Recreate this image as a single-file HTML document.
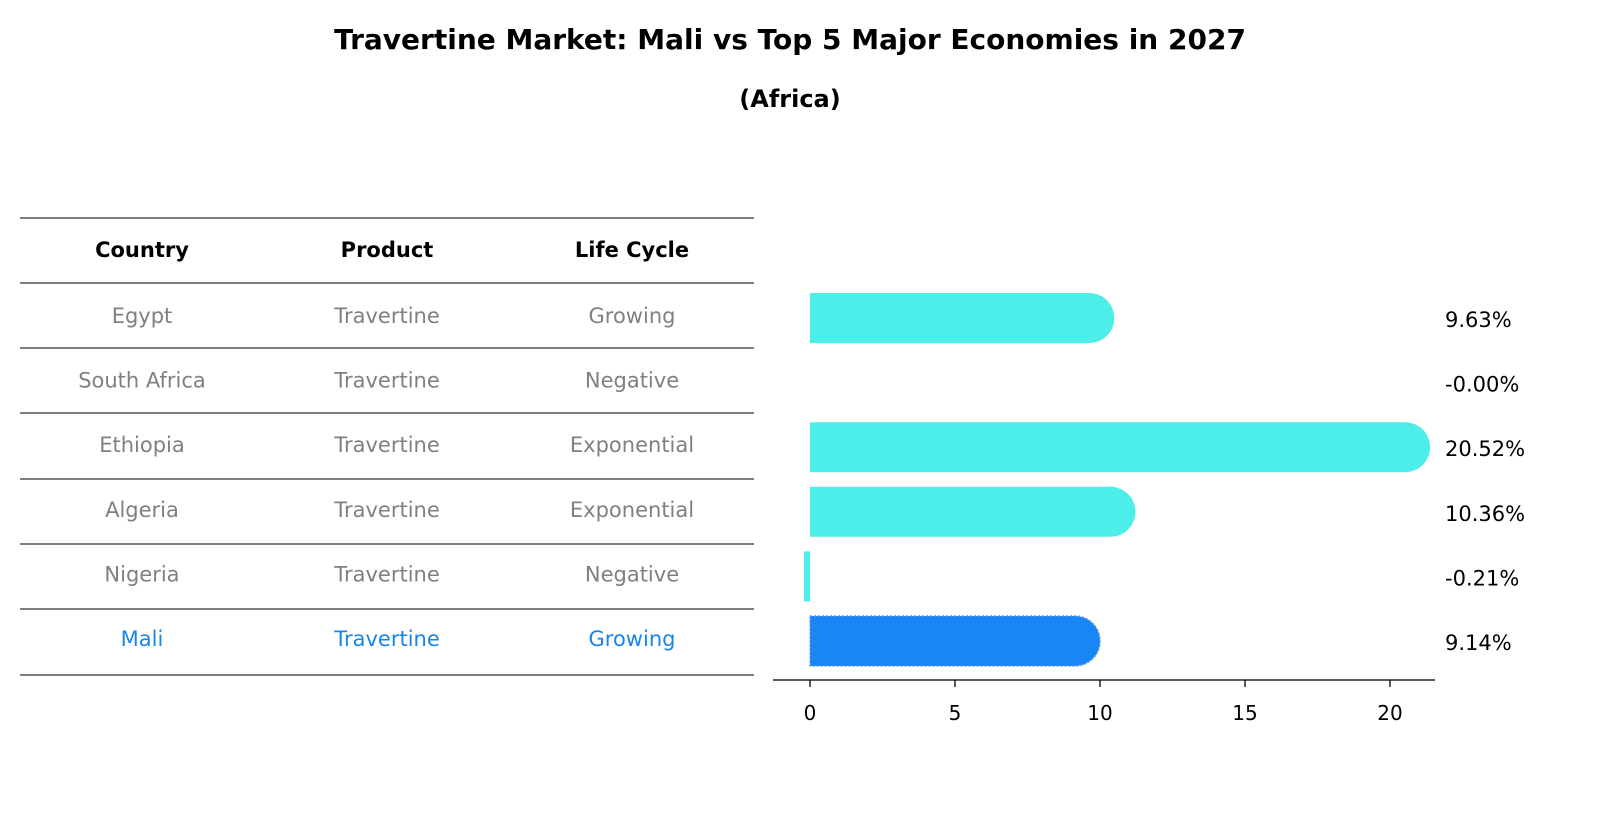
<!DOCTYPE html>
<html><head><meta charset="utf-8"><style>
body{margin:0;background:#fff;width:1604px;height:823px;overflow:hidden;font-family:"DejaVu Sans","Liberation Sans",sans-serif}
svg text{font-family:"DejaVu Sans","Liberation Sans",sans-serif}
</style></head><body>
<svg id="chart" width="1604" height="823" xmlns="http://www.w3.org/2000/svg">
<text x="790" y="49" text-anchor="middle" font-size="28" font-weight="bold">Travertine Market: Mali vs Top 5 Major Economies in 2027</text>
<text x="790" y="107" text-anchor="middle" font-size="24" font-weight="bold">(Africa)</text>
<g id="table"></g>
<g id="bars"></g>
<g id="axis"></g>
</svg>
<script>
const countries=["Egypt","South Africa","Ethiopia","Algeria","Nigeria","Mali"];
const products=["Travertine","Travertine","Travertine","Travertine","Travertine","Travertine"];
const lifeCycles=["Growing","Negative","Exponential","Exponential","Negative","Growing"];
const values=[9.63,-0.00,20.52,10.36,-0.21,9.14];
const valueLabels=["9.63%","-0.00%","20.52%","10.36%","-0.21%","9.14%"];
const ticks=[0,5,10,15,20];
const NS="http://www.w3.org/2000/svg";
function mk(t,a,p){const e=document.createElementNS(NS,t);for(const k in a)e.setAttribute(k,a[k]);p.appendChild(e);return e;}
const x=v=>810+v*29;
const rowY=i=>316+i*64.6;
const tbl=document.getElementById('table');
const lineYs=[218,283,348,413,479,544,609,675];
lineYs.forEach(y=>{const l=mk('line',{x1:20,x2:754,y1:y,y2:y,stroke:'#000','stroke-width':1},tbl);

});
const colX=[142,387,632];
["Country","Product","Life Cycle"].forEach((h,j)=>{const t=mk('text',{x:colX[j],y:257,'text-anchor':'middle','font-size':21,'font-weight':'bold'},tbl);t.textContent=h;

});
countries.forEach((c,i)=>{const col=i===countries.length-1?'#1a85e8':'#808080';
[c,products[i],lifeCycles[i]].forEach((v,j)=>{const t=mk('text',{x:colX[j],y:rowY(i)+7,'text-anchor':'middle','font-size':21,fill:col},tbl);t.textContent=v;

});});
const bars=document.getElementById('bars');
const h=50,r=25;
values.forEach((v,i)=>{const cy=rowY(i)+2,y0=cy-h/2;const col=i===values.length-1?'#1a85f5':'#4deee9';
let p;
if(v>0.5){const xe=x(v);p=mk('path',{d:`M${x(0)},${y0}H${xe}A${r},${r} 0 0 1 ${xe},${y0+h}H${x(0)}Z`,fill:col},bars);}
else{const a=Math.min(x(0),x(v)),w=Math.abs(x(v)-x(0));p=mk('rect',{x:a,y:y0,width:Math.max(w,0),height:h,fill:col},bars);}
if(i===values.length-1){p.setAttribute('stroke','#5b9be0');p.setAttribute('stroke-dasharray','2,2');p.setAttribute('stroke-width','1.5');}


const t=mk('text',{x:1445,y:cy+9,'font-size':21},bars);t.textContent=valueLabels[i];

});
const ax=document.getElementById('axis');
mk('line',{x1:773,x2:1435,y1:680,y2:680,stroke:'#000','stroke-width':1.3},ax);
ticks.forEach(tk=>{mk('line',{x1:x(tk),x2:x(tk),y1:680,y2:687,stroke:'#000','stroke-width':1.3},ax);
const t=mk('text',{x:x(tk),y:720,'text-anchor':'middle','font-size':20},ax);t.textContent=tk;

});
</script>
</body></html>
